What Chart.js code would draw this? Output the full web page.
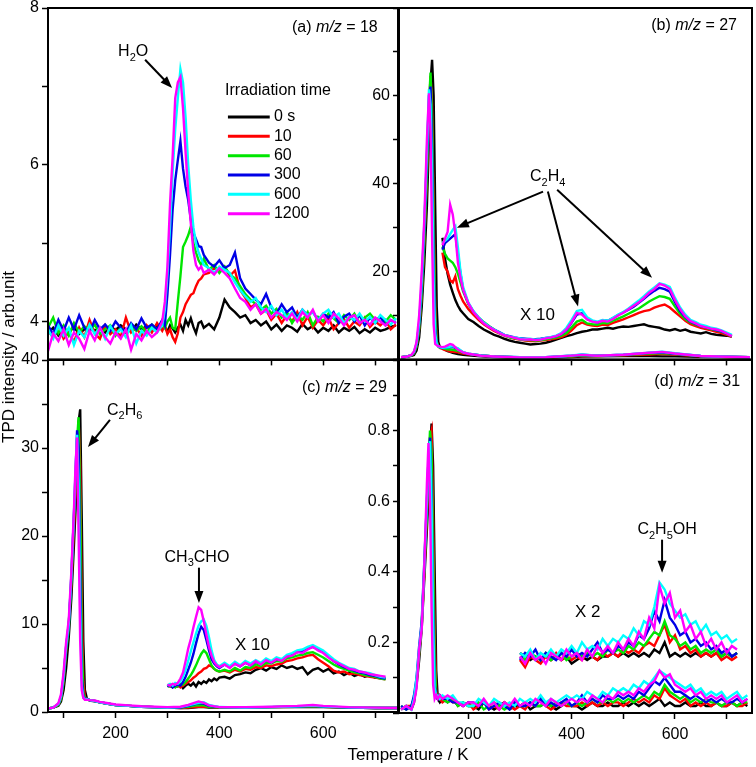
<!DOCTYPE html>
<html>
<head>
<meta charset="utf-8">
<script src="https://cdn.jsdelivr.net/npm/chart.js@4.4.1/dist/chart.umd.min.js"></script>
<style>
  body { margin: 0; background: #fff; }
  #wrap { position: relative; width: 756px; height: 767px; overflow: hidden; font-family: 'Liberation Sans', Arial, sans-serif; }
  #wrap canvas { position: absolute; }
  .axtitle { position: absolute; font-size: 17px; color: #000; white-space: nowrap; transform: translate(-50%, -50%); }
</style>
</head>
<body>
<div id="wrap">
  <canvas id="cA" width="400" height="384" style="left:0;top:-12px"></canvas>
  <canvas id="cB" width="405" height="384" style="left:351px;top:-12px"></canvas>
  <canvas id="cC" width="400" height="427" style="left:0;top:340px"></canvas>
  <canvas id="cD" width="405" height="427" style="left:351px;top:340px"></canvas>
  <div class="axtitle" style="left:408px;top:755px">Temperature / K</div>
  <div class="axtitle" style="left:9px;top:357px;transform:translate(-50%,-50%) rotate(-90deg)">TPD intensity / arb.unit</div>
</div>
<script>
// TPD spectra after irradiation, four masses

const COLORS = ['#000000', '#ff0000', '#00e600', '#0000e6', '#00ffff', '#ff00ff'];
const TIMES = ['0 s', '10', '60', '300', '600', '1200'];
const FONT = "'Liberation Sans', Arial, sans-serif";

const X_TICKS = [100, 200, 300, 400, 500, 600, 700];
const X_LABELS = [200, 400, 600];

// (a) m/z = 18
const tempA = [70,80,90,100,110,120,130,140,150,160,170,180,190,200,210,220,230,240,250,260,270,280,
  290,295,300,305,310,315,320,325,330,335,340,345,350,355,360,365,370,
  380,390,400,410,420,430,440,450,460,470,480,490,500,510,520,530,540,550,560,570,580,590,600,610,620,630,640,650,660,670,680,690,700,710,720,730,740];
const a0 = [3.85,3.92,3.82,3.90,3.86,3.93,3.84,3.90,3.95,3.88,3.92,3.86,3.94,3.89,3.95,3.90,3.87,3.96,3.90,3.94,3.88,3.95,
  3.90,3.93,3.87,3.95,3.91,3.86,3.92,3.96,3.88,4.02,3.95,4.04,3.93,3.85,3.98,4.00,3.92,
  3.97,3.90,4.05,4.28,4.18,4.12,4.05,4.08,3.98,4.02,3.95,4.00,3.90,3.96,3.88,3.95,3.92,3.87,3.97,3.90,3.94,3.86,3.92,3.88,3.95,3.86,3.92,3.88,3.93,3.85,3.90,3.86,3.92,3.88,3.90,3.93,3.95];
const a1 = [3.88,3.80,3.95,3.78,3.86,3.74,3.92,3.80,4.02,3.85,3.78,3.95,3.84,3.90,3.80,4.05,3.86,3.92,3.82,3.95,3.86,3.98,
  3.88,3.95,3.84,3.90,3.80,3.74,3.85,4.05,4.12,4.22,4.28,4.34,4.36,4.45,4.52,4.55,4.60,
  4.62,4.68,4.64,4.70,4.58,4.65,4.40,4.30,4.18,4.22,4.10,4.15,4.02,4.10,3.98,4.08,4.00,4.12,3.95,4.06,3.92,4.02,3.95,4.05,3.90,3.98,4.03,3.92,4.00,3.95,4.05,3.93,4.00,3.95,4.02,3.90,3.96];
const a2 = [3.92,4.05,3.85,3.95,3.82,3.98,3.86,3.94,3.88,3.96,3.84,3.90,3.95,3.82,3.92,3.86,3.95,3.88,3.94,3.85,3.96,3.90,
  3.98,3.92,4.00,4.05,3.92,3.90,4.25,4.58,4.95,5.02,5.10,5.21,5.00,4.88,4.78,4.72,4.80,
  4.66,4.72,4.62,4.70,4.60,4.55,4.45,4.35,4.28,4.22,4.15,4.20,4.10,4.16,4.05,4.12,3.98,4.08,4.02,4.12,3.95,4.06,4.00,4.10,4.04,3.98,4.08,4.02,4.10,3.98,4.05,4.10,4.02,4.06,4.00,4.08,4.02];
const a3 = [3.95,3.84,4.02,3.88,4.05,3.90,4.08,3.92,3.86,4.02,3.90,3.96,3.88,4.00,3.92,3.86,3.98,3.90,4.04,3.92,3.96,3.90,
  4.02,3.95,4.35,4.85,5.43,5.80,6.06,6.30,5.95,5.72,5.55,5.30,5.13,5.05,4.96,4.95,4.85,
  4.75,4.70,4.78,4.68,4.72,4.88,4.55,4.42,4.35,4.28,4.22,4.35,4.18,4.10,4.22,4.12,4.18,4.05,4.15,4.08,4.12,4.02,4.10,4.05,4.12,3.98,4.06,4.10,4.00,4.08,3.95,4.05,3.98,4.06,3.95,4.02,3.98];
const a4 = [3.90,3.78,3.95,3.82,3.92,3.70,3.88,3.80,3.96,3.84,3.92,3.78,3.94,3.84,3.90,3.80,3.95,3.72,3.88,3.82,3.92,3.86,
  3.95,4.15,4.60,5.21,5.90,6.45,6.85,7.22,7.05,6.60,6.00,5.55,5.20,5.00,4.88,4.80,4.72,
  4.68,4.62,4.70,4.66,4.62,4.50,4.40,4.32,4.25,4.30,4.18,4.12,4.20,4.08,4.15,4.05,4.12,4.02,4.15,4.08,4.12,4.02,4.10,4.15,4.05,4.10,3.98,4.06,4.02,4.10,4.00,4.06,3.98,4.08,4.02,3.96,4.04];
const a5 = [3.62,3.85,3.75,3.90,3.70,3.86,3.78,3.65,3.88,3.76,3.92,3.80,3.72,3.86,3.78,3.90,3.64,3.84,3.76,3.88,3.80,3.86,
  4.00,4.25,4.70,5.50,6.10,6.85,7.05,7.12,6.72,6.15,5.65,5.25,4.90,4.72,4.66,4.70,4.62,
  4.66,4.60,4.68,4.62,4.55,4.42,4.30,4.25,4.15,4.22,4.10,4.16,4.05,4.12,4.08,4.02,4.10,4.00,4.12,4.05,4.15,4.00,4.08,3.98,4.10,4.04,3.95,4.05,4.08,3.98,4.02,3.96,4.05,4.00,3.95,4.02,3.98];

// (b) m/z = 27, full scale
const tempB = [70,80,90,95,100,105,110,115,120,124,127,130,133,136,139,142,145,150,155,160,165,170,180,190,200,225,250,300,350,400,420,450,500,550,575,600,650,700,745];
const b0 = [0.5,0.6,0.8,1.0,2.0,5,12,22,35,50,63,68.2,60,35,12,4,2.8,2.6,2.2,1.9,1.7,1.5,1.2,1.05,0.92,0.7,0.56,0.38,0.38,0.53,0.63,0.68,0.75,0.76,0.7,0.69,0.59,0.54,0.5];
const b1 = [0.5,0.6,0.9,1.4,3.0,7,15,27,42,57,64.5,58,35,12,4,3.0,2.6,2.4,2.1,2.0,1.8,1.75,1.6,1.32,1.15,0.85,0.65,0.45,0.44,0.66,0.84,0.76,0.91,1.12,1.25,1.08,0.72,0.56,0.5];
const b2 = [0.5,0.6,0.9,1.4,3.0,7,15,27,42,58,65.3,55,30,10,4,3.0,2.7,2.6,2.4,2.3,2.25,2.2,1.95,1.55,1.26,0.9,0.68,0.46,0.46,0.73,0.9,0.79,0.98,1.32,1.44,1.2,0.75,0.58,0.5];
const b3 = [0.5,0.6,1.0,1.6,3.5,8,17,30,46,60,62.1,48,22,7,3.5,3.0,2.8,2.6,2.7,2.75,2.8,2.85,2.4,1.6,1.28,0.88,0.68,0.48,0.49,0.84,1.05,0.84,1.07,1.48,1.63,1.3,0.76,0.59,0.5];
const b4 = [0.5,0.6,1.0,1.7,3.6,8.5,18,31,47,61.5,58,42,18,6,3.5,3.0,2.8,2.65,2.7,2.75,2.9,3.0,2.55,1.65,1.3,0.9,0.68,0.48,0.49,0.9,1.13,0.86,1.08,1.55,1.73,1.4,0.79,0.61,0.52];
const b5 = [0.5,0.6,1.0,1.8,4.0,10,20,32,50,60.6,52,28,8,3.5,3.2,3.0,2.9,2.8,2.9,3.2,3.5,3.3,2.2,1.6,1.28,0.82,0.67,0.46,0.48,0.85,1.02,0.84,1.06,1.52,1.72,1.35,0.76,0.59,0.5];

// (b) X 10 trace
const tempBX = [150,155,160,165,170,175,180,185,190,
  200,210,220,230,240,250,260,270,280,290,300,310,320,330,340,350,360,370,380,390,
  400,410,420,430,440,450,460,470,480,490,500,510,520,530,540,550,560,570,580,590,
  600,610,620,630,640,650,660,670,680,690,700,710];
const bx0 = [27.7,23.0,19.5,17.0,15.2,13.5,12.2,11.2,10.5,
  9.2,8.5,7.6,6.8,6.2,5.6,5.2,4.7,4.3,4.0,3.8,3.6,3.4,3.5,3.6,3.8,4.1,4.5,4.9,5.3,
  5.6,6.0,6.3,6.5,6.8,6.8,7.0,7.2,7.0,7.3,7.5,7.4,7.6,7.8,8.0,7.6,7.4,7.2,6.8,6.6,
  6.9,6.5,6.8,6.3,6.1,5.9,6.2,5.8,5.6,5.5,5.4,5.2];
const bx1 = [24.3,21.0,20.0,18.0,17.5,18.9,16.0,14.5,13.2,
  11.5,10.2,9.0,8.0,7.2,6.5,5.9,5.4,5.0,4.7,4.5,4.3,4.2,4.2,4.3,4.4,4.6,4.8,5.1,5.6,
  6.6,7.8,8.4,7.9,7.7,7.6,7.9,7.8,8.3,8.7,9.1,9.6,10.1,10.6,11.0,11.2,11.8,12.2,12.5,11.8,
  10.8,9.8,8.8,8.0,7.6,7.2,6.9,6.6,6.3,6.0,5.6,5.2];
const bx2 = [25.7,24.0,23.0,22.5,22.0,21.0,19.5,17.5,15.5,
  12.6,10.8,9.5,8.5,7.6,6.8,6.0,5.5,5.0,4.8,4.6,4.4,4.4,4.3,4.4,4.6,4.8,5.0,5.4,6.0,
  7.3,8.6,9.0,8.2,8.0,7.9,8.3,8.2,8.8,9.3,9.8,10.4,11.0,11.6,12.4,13.2,13.8,14.4,14.2,13.8,
  12.0,10.4,9.2,8.4,7.9,7.5,7.2,6.9,6.6,6.3,5.8,5.3];
const bx3 = [25.0,26.5,27.0,27.5,28.0,28.5,24.0,19.5,16.0,
  12.8,10.9,9.5,8.3,7.5,6.8,6.2,5.6,5.3,5.0,4.8,4.7,4.6,4.6,4.7,4.9,5.0,5.3,5.8,6.7,
  8.4,10.2,10.5,9.2,8.7,8.4,8.9,8.8,9.4,10.1,10.7,11.3,12.0,12.9,13.8,14.8,15.6,16.3,16.0,15.4,
  13.0,11.0,9.6,8.6,8.1,7.6,7.3,7.0,6.7,6.4,5.9,5.4];
const bx4 = [26.5,27.0,27.5,28.5,29.5,30.3,25.5,20.0,16.5,
  13.0,11.0,9.6,8.4,7.5,6.8,6.1,5.6,5.2,5.0,4.8,4.6,4.7,4.5,4.6,4.9,5.1,5.4,6.0,7.2,
  9.0,11.0,11.3,9.6,8.9,8.6,9.0,8.8,9.5,10.2,10.8,11.6,12.5,13.4,14.4,15.5,16.4,17.3,17.0,16.5,
  14.0,11.8,10.2,9.0,8.5,7.9,7.6,7.2,7.0,6.6,6.1,5.6];
const bx5 = [26.0,27.5,29.0,35.2,33.0,28.5,22.0,18.5,15.9,
  12.8,10.8,9.4,8.2,7.4,6.7,6.0,5.5,5.2,4.9,4.6,4.5,4.6,4.4,4.5,4.8,5.0,5.3,5.8,6.8,
  8.5,10.6,10.2,9.1,8.6,8.4,8.8,8.6,9.2,10.0,10.6,11.4,12.2,13.0,14.0,15.2,16.0,17.2,16.8,16.0,
  13.5,11.4,9.8,8.7,8.2,7.6,7.3,7.0,6.8,6.5,5.9,5.3];

// (c) m/z = 29, full scale
const tempC = [70,80,90,95,100,105,110,115,120,123,126,129,132,135,138,141,145,150,160,170,180,200,225,250,300,325,340,350,360,370,380,400,450,500,550,580,600,650,700,745];
const c0 = [0.4,0.5,0.7,1.2,2.5,5,8.5,13,19,23,28,33,34.4,22,8,2.5,1.5,1.3,1.2,1.1,1.0,0.8,0.7,0.6,0.5,0.45,0.45,0.5,0.55,0.55,0.5,0.5,0.5,0.55,0.55,0.6,0.55,0.5,0.45,0.45];
const c1 = [0.4,0.5,0.8,1.5,3.5,7,10.2,14.5,21,25,29,33,28,12,3.5,1.7,1.5,1.35,1.25,1.1,1.0,0.8,0.7,0.6,0.5,0.45,0.5,0.55,0.6,0.62,0.6,0.52,0.5,0.55,0.6,0.65,0.58,0.5,0.45,0.45];
const c2 = [0.4,0.5,0.8,1.5,3.5,7,9.5,15,22,26,31,33.5,24,8,2.2,1.6,1.5,1.35,1.25,1.1,1.0,0.8,0.7,0.6,0.5,0.5,0.6,0.7,0.8,0.75,0.6,0.52,0.5,0.55,0.6,0.66,0.6,0.5,0.45,0.45];
const c3 = [0.4,0.5,0.9,1.7,4,7.5,9.8,15.5,22.5,27,32,30,16,4,1.8,1.5,1.5,1.35,1.25,1.1,1.0,0.8,0.7,0.6,0.5,0.5,0.7,0.85,1.0,0.95,0.7,0.55,0.5,0.55,0.62,0.7,0.62,0.5,0.45,0.45];
const c4 = [0.4,0.5,0.9,1.7,4,7.5,10,15.5,22.5,27.5,31.5,26,12,3,1.6,1.5,1.45,1.35,1.25,1.1,1.0,0.8,0.7,0.6,0.5,0.55,0.75,0.9,1.05,1.1,0.8,0.56,0.5,0.56,0.64,0.72,0.64,0.52,0.47,0.45];
const c5 = [0.4,0.5,1.0,2.0,4.5,8,10.5,16,23,28,31.2,20,8,2.5,1.6,1.4,1.4,1.35,1.3,1.15,1.05,0.85,0.75,0.65,0.55,0.6,0.8,1.0,1.2,1.05,0.75,0.55,0.55,0.6,0.7,0.8,0.7,0.55,0.5,0.45];

// (c) X 10 trace
const tempCX = [300,305,310,315,320,325,330,335,340,345,350,355,360,365,370,375,380,385,390,395,400,
  410,420,430,440,450,460,470,480,490,500,510,520,530,540,550,560,570,580,590,600,610,620,630,640,650,660,670,680,690,700,710,720];
const cx0 = [2.9,3.0,2.8,3.0,2.9,3.1,2.7,3.0,3.2,3.0,3.3,2.9,3.4,3.2,3.5,3.3,3.7,3.5,3.8,3.6,3.9,
  4.0,3.8,4.2,4.3,4.5,4.4,4.8,5.0,4.7,5.1,4.9,5.3,5.0,5.2,4.9,5.1,4.3,4.8,5.0,4.6,4.9,4.4,4.6,4.2,4.5,4.1,4.3,4.0,4.2,3.9,4.0,3.8];
const cx1 = [3.1,2.9,3.0,2.9,3.1,2.8,3.0,3.2,3.4,3.6,3.9,4.1,4.4,4.6,4.9,5.0,5.3,5.2,4.9,4.7,4.6,
  4.7,4.5,4.8,4.6,4.9,4.8,5.1,5.0,5.3,5.2,5.4,5.5,5.8,5.9,6.1,6.2,6.4,6.5,6.0,5.6,5.2,4.7,4.5,4.6,4.3,4.4,4.2,4.1,4.0,3.9,3.8,3.7];
const cx2 = [3.0,2.9,3.1,2.8,3.0,3.2,3.1,3.4,3.8,4.2,4.7,5.3,6.0,6.6,7.0,6.7,6.0,5.3,4.9,4.7,4.6,
  4.8,4.6,5.0,4.7,5.1,5.0,5.4,5.2,5.6,5.5,5.8,5.7,6.1,6.2,6.4,6.5,6.7,6.8,6.5,6.2,5.8,5.4,5.1,4.9,4.7,4.5,4.4,4.2,4.1,4.0,3.8,3.7];
const cx3 = [2.9,3.1,2.8,3.0,3.1,3.0,3.4,4.0,4.8,5.6,6.6,7.8,8.9,9.7,9.3,8.2,7.0,6.0,5.5,5.2,5.0,
  5.4,5.1,5.5,5.2,5.6,5.3,5.7,5.5,5.9,5.6,6.0,5.9,6.3,6.5,6.8,6.9,7.2,7.4,7.1,6.8,6.3,5.8,5.4,5.1,4.9,4.7,4.5,4.4,4.2,4.1,3.9,3.8];
const cx4 = [3.0,3.2,3.0,3.3,3.2,3.5,4.0,4.8,5.8,6.9,7.9,8.9,9.8,10.3,10.5,9.8,8.5,7.0,5.9,5.4,5.2,
  5.6,5.2,5.7,5.3,5.8,5.5,5.9,5.6,6.1,5.8,6.2,6.0,6.5,6.7,7.0,7.1,7.4,7.6,7.3,7.0,6.5,6.0,5.6,5.3,5.0,4.9,4.6,4.5,4.4,4.2,4.0,3.9];
const cx5 = [3.1,3.0,3.2,3.1,3.3,3.8,4.5,5.8,7.2,8.3,9.6,10.8,11.9,11.6,10.3,8.8,7.4,6.4,5.7,5.3,5.1,
  5.4,5.0,5.5,5.2,5.6,5.3,5.8,5.4,5.9,5.6,6.0,5.8,6.3,6.4,6.8,6.7,7.1,7.4,7.0,6.7,6.2,5.8,5.5,5.2,4.9,4.8,4.6,4.5,4.3,4.2,4.1,4.0];

// (d) m/z = 31, full scale
const tempD = [70,80,90,95,100,105,110,115,120,123,126,129,132,135,138,141,145,150,160,170,180,190,200,
  210,220,230,240,250,260,270,280,290,300,310,320,330,340,350,360,370,380,390,400,
  410,420,430,440,450,460,470,480,490,500,510,520,530,540,550,560,570,580,590,600,
  610,620,630,640,650,660,670,680,690,700,710,720,730,740];
const d0 = [0.01,0.02,0.01,0.03,0.08,0.15,0.24,0.38,0.52,0.62,0.74,0.82,0.70,0.40,0.12,0.04,0.03,0.04,0.03,0.04,0.02,0.03,0.02,
  0.02,0.01,0.03,0.02,0.01,0.02,0.03,0.01,0.02,0.02,0.03,0.01,0.02,0.02,0.03,0.02,0.01,0.02,0.03,0.02,
  0.02,0.01,0.02,0.03,0.02,0.02,0.03,0.02,0.02,0.03,0.02,0.03,0.02,0.03,0.02,0.03,0.04,0.02,0.03,0.02,
  0.02,0.03,0.02,0.02,0.03,0.02,0.02,0.03,0.02,0.02,0.03,0.02,0.03,0.02];
const d1 = [0.01,0.02,0.02,0.04,0.09,0.17,0.25,0.40,0.56,0.68,0.78,0.80,0.55,0.22,0.06,0.04,0.04,0.03,0.04,0.03,0.03,0.02,0.03,
  0.01,0.02,0.03,0.01,0.02,0.01,0.03,0.02,0.01,0.02,0.01,0.03,0.02,0.04,0.02,0.01,0.02,0.03,0.02,0.02,
  0.02,0.03,0.02,0.03,0.02,0.03,0.02,0.03,0.03,0.02,0.03,0.04,0.03,0.04,0.03,0.05,0.04,0.07,0.05,0.04,
  0.03,0.04,0.02,0.03,0.02,0.03,0.02,0.03,0.02,0.02,0.03,0.02,0.02,0.03];
const d2 = [0.02,0.01,0.02,0.04,0.09,0.17,0.25,0.41,0.57,0.70,0.80,0.74,0.45,0.15,0.05,0.04,0.05,0.04,0.03,0.04,0.02,0.03,0.02,
  0.02,0.03,0.01,0.02,0.03,0.02,0.01,0.02,0.03,0.02,0.02,0.03,0.02,0.02,0.03,0.02,0.03,0.02,0.03,0.02,
  0.03,0.02,0.03,0.04,0.03,0.03,0.04,0.03,0.04,0.03,0.04,0.03,0.04,0.05,0.04,0.06,0.05,0.08,0.06,0.05,
  0.04,0.05,0.03,0.04,0.03,0.04,0.03,0.03,0.02,0.03,0.03,0.02,0.03,0.03];
const d3 = [0.02,0.01,0.02,0.05,0.10,0.19,0.26,0.43,0.60,0.72,0.78,0.62,0.30,0.08,0.05,0.04,0.05,0.04,0.04,0.03,0.03,0.02,0.03,
  0.03,0.02,0.03,0.01,0.02,0.03,0.02,0.01,0.03,0.02,0.02,0.03,0.02,0.04,0.02,0.03,0.02,0.03,0.04,0.02,
  0.03,0.05,0.03,0.04,0.03,0.05,0.04,0.04,0.05,0.04,0.05,0.04,0.06,0.05,0.07,0.09,0.08,0.10,0.08,0.06,
  0.06,0.05,0.04,0.05,0.04,0.03,0.04,0.03,0.04,0.03,0.03,0.04,0.03,0.04];
const d4 = [0.01,0.02,0.01,0.04,0.10,0.18,0.25,0.42,0.60,0.72,0.77,0.58,0.26,0.07,0.05,0.05,0.04,0.05,0.04,0.05,0.03,0.03,0.02,
  0.02,0.04,0.03,0.02,0.04,0.03,0.02,0.03,0.02,0.04,0.03,0.04,0.03,0.05,0.03,0.04,0.03,0.04,0.05,0.04,
  0.05,0.04,0.06,0.05,0.04,0.06,0.05,0.07,0.06,0.07,0.06,0.08,0.07,0.09,0.08,0.10,0.12,0.11,0.10,0.09,
  0.08,0.07,0.08,0.06,0.07,0.05,0.06,0.05,0.06,0.04,0.05,0.06,0.04,0.05];
const d5 = [0.01,0.02,0.01,0.03,0.07,0.18,0.24,0.42,0.65,0.765,0.60,0.30,0.08,0.04,0.05,0.04,0.05,0.04,0.05,0.04,0.03,0.02,0.03,
  0.03,0.02,0.04,0.02,0.03,0.01,0.03,0.02,0.04,0.02,0.03,0.02,0.04,0.03,0.02,0.04,0.03,0.02,0.03,0.04,
  0.03,0.04,0.03,0.05,0.04,0.03,0.05,0.04,0.06,0.05,0.06,0.05,0.07,0.06,0.08,0.09,0.12,0.10,0.11,0.08,
  0.07,0.06,0.07,0.05,0.06,0.04,0.05,0.04,0.05,0.03,0.04,0.05,0.03,0.04];

// (d) X 2 trace
const tempDX = [300,310,320,330,340,350,360,370,380,390,400,410,420,430,440,450,460,470,480,490,500,
  510,520,530,540,550,560,570,580,590,600,610,620,630,640,650,660,670,680,690,700,710,720];
const dx0 = [0.17,0.16,0.15,0.16,0.15,0.16,0.15,0.16,0.15,0.16,0.14,0.15,0.16,0.15,0.16,0.15,0.16,0.16,0.17,0.16,0.17,
  0.16,0.17,0.16,0.17,0.16,0.18,0.17,0.20,0.16,0.17,0.16,0.17,0.16,0.17,0.16,0.17,0.16,0.17,0.16,0.17,0.16,0.17];
const dx1 = [0.15,0.13,0.16,0.15,0.14,0.16,0.15,0.17,0.15,0.16,0.15,0.16,0.15,0.17,0.16,0.15,0.17,0.16,0.17,0.16,0.18,
  0.17,0.18,0.17,0.19,0.20,0.19,0.22,0.25,0.20,0.22,0.18,0.19,0.17,0.18,0.16,0.17,0.16,0.17,0.15,0.16,0.15,0.16];
const dx2 = [0.16,0.15,0.17,0.16,0.15,0.17,0.15,0.16,0.17,0.15,0.16,0.17,0.16,0.17,0.16,0.17,0.16,0.18,0.17,0.18,0.17,
  0.19,0.18,0.20,0.19,0.21,0.23,0.22,0.26,0.22,0.21,0.19,0.20,0.18,0.19,0.17,0.18,0.17,0.18,0.16,0.17,0.16,0.17];
const dx3 = [0.15,0.17,0.16,0.18,0.15,0.17,0.16,0.15,0.17,0.16,0.18,0.16,0.17,0.16,0.18,0.20,0.17,0.18,0.17,0.19,0.18,
  0.20,0.19,0.22,0.21,0.24,0.29,0.26,0.32,0.27,0.25,0.22,0.23,0.20,0.21,0.19,0.20,0.18,0.19,0.17,0.18,0.16,0.17];
const dx4 = [0.17,0.16,0.18,0.15,0.17,0.16,0.18,0.16,0.18,0.17,0.19,0.17,0.20,0.18,0.19,0.18,0.21,0.19,0.21,0.20,0.22,
  0.21,0.24,0.22,0.26,0.25,0.30,0.37,0.35,0.31,0.29,0.27,0.28,0.25,0.26,0.23,0.25,0.22,0.23,0.21,0.22,0.20,0.21];
const dx5 = [0.16,0.14,0.17,0.15,0.16,0.14,0.17,0.16,0.15,0.18,0.16,0.17,0.15,0.18,0.16,0.19,0.17,0.19,0.17,0.20,0.18,
  0.21,0.19,0.23,0.21,0.27,0.24,0.36,0.31,0.34,0.27,0.29,0.23,0.25,0.21,0.23,0.19,0.21,0.18,0.20,0.17,0.19,0.18];

// ---------- helpers ----------

function lines(xs, sets) {
  return sets.map((ys, i) => ({
    label: TIMES[i],
    data: xs.map((x, k) => ({ x: x, y: ys[k] })),
    borderColor: COLORS[i],
    borderWidth: 2.4,
    pointRadius: 0,
    tension: 0,
    order: 5 - i
  }));
}

function xAxis(min, max, showLabels, height) {
  return {
    type: 'linear', min: min, max: max,
    afterBuildTicks: s => { s.ticks = X_TICKS.map(v => ({ value: v })); },
    afterFit: s => { s.height = height; },
    border: { display: false },
    grid: { drawOnChartArea: false, tickLength: 6, tickWidth: 1.5, tickColor: '#000' },
    ticks: {
      padding: 6, color: '#000', autoSkip: false, maxRotation: 0,
      font: { family: FONT, size: 16 },
      callback: v => (showLabels && X_LABELS.includes(v)) ? String(v) : ''
    }
  };
}

function yAxis(min, max, tickVals, labelVals) {
  return {
    type: 'linear', min: min, max: max,
    afterBuildTicks: s => { s.ticks = tickVals.map(v => ({ value: v })); },
    afterFit: s => { s.width = 48; },
    border: { display: false },
    grid: { drawOnChartArea: false, tickLength: 6, tickWidth: 1.5, tickColor: '#000' },
    ticks: {
      padding: 3, color: '#000', autoSkip: false,
      font: { family: FONT, size: 16 },
      callback: v => labelVals.includes(v) ? String(v) : ''
    }
  };
}

function drawParts(ctx, parts, px, py, align, size) {
  const fontOf = s => s === 'sub' ? Math.round(size * 0.68) + 'px ' + FONT
    : s === 'it' ? 'italic ' + size + 'px ' + FONT : size + 'px ' + FONT;
  let w = 0;
  parts.forEach(p => { ctx.font = fontOf(p[1]); w += ctx.measureText(p[0]).width; });
  let x = align === 'right' ? px - w : align === 'center' ? px - w / 2 : px;
  ctx.textBaseline = 'middle';
  ctx.textAlign = 'left';
  ctx.fillStyle = '#000';
  parts.forEach(p => {
    ctx.font = fontOf(p[1]);
    ctx.fillText(p[0], x, p[1] === 'sub' ? py + size * 0.38 : py);
    x += ctx.measureText(p[0]).width;
  });
}

function drawArrow(ctx, x1, y1, x2, y2) {
  const a = Math.atan2(y2 - y1, x2 - x1), L = 12, W = 4.5;
  ctx.strokeStyle = '#000';
  ctx.fillStyle = '#000';
  ctx.lineWidth = 2;
  ctx.beginPath();
  ctx.moveTo(x1, y1);
  ctx.lineTo(x2 - L * 0.8 * Math.cos(a), y2 - L * 0.8 * Math.sin(a));
  ctx.stroke();
  ctx.beginPath();
  ctx.moveTo(x2, y2);
  ctx.lineTo(x2 - L * Math.cos(a) + W * Math.sin(a), y2 - L * Math.sin(a) - W * Math.cos(a));
  ctx.lineTo(x2 - L * Math.cos(a) - W * Math.sin(a), y2 - L * Math.sin(a) + W * Math.cos(a));
  ctx.closePath();
  ctx.fill();
}

// frame + text notes, placed in data units
const notesPlugin = {
  id: 'notes',
  afterDatasetsDraw(chart, args, opts) {
    const ctx = chart.ctx, xs = chart.scales.x, ys = chart.scales.y;
    const X = v => xs.getPixelForValue(v), Y = v => ys.getPixelForValue(v);
    ctx.save();
    (opts.items || []).forEach(it => {
      if (it.arrow) drawArrow(ctx, X(it.arrow[0]), Y(it.arrow[1]), X(it.arrow[2]), Y(it.arrow[3]));
      else drawParts(ctx, it.parts, X(it.x), Y(it.y), it.align || 'left', it.size || 16);
    });
    if (opts.legend) {
      const lg = opts.legend;
      drawParts(ctx, [['Irradiation time', '']], X(lg.x), Y(lg.y), 'left', 16);
      TIMES.forEach((t, i) => {
        const yy = Y(lg.row0 - i * lg.step);
        ctx.strokeStyle = COLORS[i];
        ctx.lineWidth = 3;
        ctx.beginPath();
        ctx.moveTo(X(lg.x1), yy);
        ctx.lineTo(X(lg.x2), yy);
        ctx.stroke();
        drawParts(ctx, [[t, '']], X(lg.xt), yy, 'left', 16);
      });
    }
    const a = chart.chartArea;
    ctx.strokeStyle = '#000';
    ctx.lineWidth = 2;
    ctx.strokeRect(a.left, a.top, a.right - a.left, a.bottom - a.top);
    ctx.restore();
  }
};

function makeChart(id, datasets, xCfg, yCfg, pad, items, legend) {
  return new Chart(document.getElementById(id), {
    type: 'line',
    data: { datasets: datasets },
    options: {
      responsive: false,
      animation: false,
      devicePixelRatio: 1,
      layout: { padding: pad },
      plugins: {
        legend: { display: false },
        tooltip: { enabled: false },
        notes: { items: items, legend: legend }
      },
      scales: { x: xCfg, y: yCfg }
    },
    plugins: [notesPlugin]
  });
}

// ---------- panels ----------

makeChart('cA', lines(tempA, [a0, a1, a2, a3, a4, a5]),
  xAxis(70, 744, false, 12),
  yAxis(3.516, 8, [4, 5, 6, 7, 8], [4, 6, 8]),
  { top: 20, right: 2, left: 0, bottom: 0 },
  [
    { parts: [['(a) ', ''], ['m/z', 'it'], [' = 18', '']], x: 705, y: 7.75, align: 'right' },
    { parts: [['H', ''], ['2', 'sub'], ['O', '']], x: 205, y: 7.44 },
    { arrow: [257, 7.34, 309, 6.98] }
  ],
  { x: 411, y: 6.94, x1: 416.5, x2: 497, xt: 505, row0: 6.61, step: 0.247 });

makeChart('cB', lines(tempB, [b0, b1, b2, b3, b4, b5]).concat(lines(tempBX, [bx0, bx1, bx2, bx3, bx4, bx5])),
  xAxis(66, 749, false, 12),
  yAxis(0, 80, [0, 10, 20, 30, 40, 50, 60, 70, 80], [20, 40, 60]),
  { top: 20, right: 4, left: 0, bottom: 0 },
  [
    { parts: [['(b) ', ''], ['m/z', 'it'], [' = 27', '']], x: 720, y: 76.1, align: 'right' },
    { parts: [['C', ''], ['2', 'sub'], ['H', ''], ['4', 'sub']], x: 319.5, y: 41.6 },
    { arrow: [344.7, 38.2, 178, 30.0] },
    { arrow: [354, 38.2, 412.4, 12.05] },
    { arrow: [372, 38.6, 555.6, 18.6] },
    { parts: [['X 10', '']], x: 300, y: 10.0, size: 17 }
  ]);

makeChart('cC', lines(tempC, [c0, c1, c2, c3, c4, c5]).concat(lines(tempCX, [cx0, cx1, cx2, cx3, cx4, cx5])),
  xAxis(70, 744, true, 55),
  yAxis(0, 40, [0, 5, 10, 15, 20, 25, 30, 35, 40], [0, 10, 20, 30, 40]),
  { top: 20, right: 2, left: 0, bottom: 0 },
  [
    { parts: [['(c) ', ''], ['m/z', 'it'], [' = 29', '']], x: 722.6, y: 36.9, align: 'right' },
    { parts: [['C', ''], ['2', 'sub'], ['H', ''], ['6', 'sub']], x: 183.6, y: 34.3 },
    { arrow: [189.3, 33.2, 147, 30.1] },
    { parts: [['CH', ''], ['3', 'sub'], ['CHO', '']], x: 356.8, y: 17.6, align: 'center' },
    { arrow: [360.7, 16.4, 360.7, 12.4] },
    { parts: [['X 10', '']], x: 430, y: 7.6, size: 17 }
  ]);

makeChart('cD', lines(tempD, [d0, d1, d2, d3, d4, d5]).concat(lines(tempDX, [dx0, dx1, dx2, dx3, dx4, dx5])),
  xAxis(66, 749, true, 54),
  yAxis(0, 1.0, [0, 0.1, 0.2, 0.3, 0.4, 0.5, 0.6, 0.7, 0.8, 0.9, 1.0], [0.2, 0.4, 0.6, 0.8]),
  { top: 20, right: 4, left: 0, bottom: 0 },
  [
    { parts: [['(d) ', ''], ['m/z', 'it'], [' = 31', '']], x: 726, y: 0.939, align: 'right' },
    { parts: [['C', ''], ['2', 'sub'], ['H', ''], ['5', 'sub'], ['OH', '']], x: 584.7, y: 0.519, align: 'center' },
    { arrow: [575, 0.491, 575, 0.397] },
    { parts: [['X 2', '']], x: 406.6, y: 0.284, size: 17 }
  ]);
</script>
</body>
</html>
